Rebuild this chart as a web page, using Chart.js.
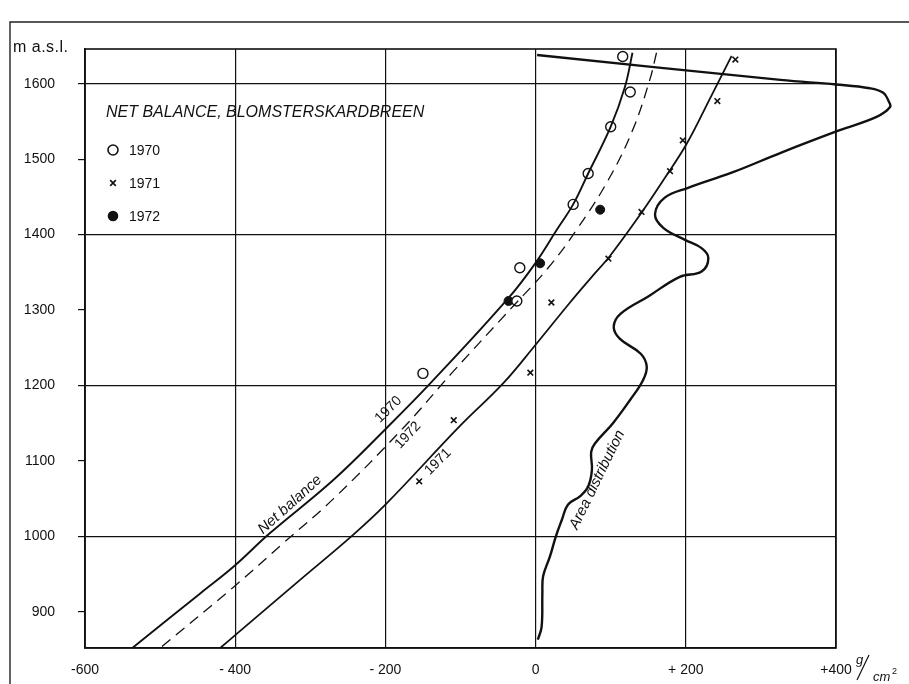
<!DOCTYPE html>
<html>
<head>
<meta charset="utf-8">
<script src="https://cdn.jsdelivr.net/npm/chart.js@4.4.1/dist/chart.umd.min.js"></script>
<style>
  html, body { margin: 0; padding: 0; background: #fff; }
  #wrap { position: relative; width: 909px; height: 684px; }
  canvas { display: block; }
</style>
</head>
<body>
<div id="wrap"><canvas id="c" width="909" height="684"></canvas></div>
<script>
// Axis ticks: net balance (g/cm2) and altitude (m a.s.l.)
const balanceTicks = [-600, -400, -200, 0, 200, 400];
const balanceTickLabels = ['-600', '- 400', '- 200', '0', '+ 200', '+400'];
const altitudeTicks = [900, 1000, 1100, 1200, 1300, 1400, 1500, 1600];

// Measured net balance at stakes
const obs1970Balance  = [116, 126, 100, 70, 50, -21, -25, -150];
const obs1970Altitude = [1636, 1589, 1543, 1481, 1440, 1356, 1312, 1216];
const obs1971Balance  = [266, 242, 196, 179, 141, 97, 21, -7, -109, -155];
const obs1971Altitude = [1632, 1577, 1525, 1484, 1430, 1368, 1310, 1217, 1154, 1073];
const obs1972Balance  = [86, 6, -36];
const obs1972Altitude = [1433, 1362, 1312];

// Net balance curves
const curve1970Balance  = [129, 119, 100, 70, 50, 28, 1, -36, -140, -199, -269, -354, -402, -447, -537];
const curve1970Altitude = [1641, 1596, 1543, 1481, 1440, 1406, 1364, 1316, 1203, 1143, 1075, 1004, 960, 924, 852];
const curve1971Balance  = [261, 232, 201, 172, 141, 100, 74, 45, 0, -43, -101, -200, -243, -314, -400, -420];
const curve1971Altitude = [1637, 1580, 1520, 1475, 1429, 1373, 1343, 1309, 1254, 1203, 1146, 1042, 1002, 942, 869, 852];
const curve1972Balance  = [161, 152, 129, 96, 55, 16, -30, -112, -175, -269, -336, -402, -500];
const curve1972Altitude = [1641, 1605, 1538, 1471, 1407, 1355, 1305, 1216, 1145, 1050, 991, 933, 852];

// Area distribution of the glacier with altitude
const areaValue    = [3, 8, 9, 10, 19, 27, 35, 43, 59, 70, 75, 74, 79, 103, 126, 143, 148, 140, 112, 104, 113, 150, 192, 221, 230, 221, 199, 170, 159, 172, 203, 261, 328, 404, 454, 472, 470, 463, 445, 400, 326, 2];
const areaAltitude = [863, 880, 924, 947, 973, 1000, 1022, 1042, 1053, 1066, 1088, 1112, 1123, 1150, 1181, 1207, 1225, 1242, 1262, 1278, 1295, 1318, 1344, 1351, 1369, 1382, 1393, 1409, 1427, 1449, 1462, 1482, 1509, 1538, 1556, 1569, 1577, 1588, 1594, 1599, 1605, 1638];

const INK = '#111';
const pts = (xs, ys) => xs.map((x, i) => ({ x: x, y: ys[i] }));

const lineSet = (xs, ys, width, dash) => ({
  data: pts(xs, ys), showLine: true, borderColor: INK, borderWidth: width,
  borderDash: dash || [], pointRadius: 0, tension: 0.4, fill: false
});

const decorations = {
  id: 'decorations',
  beforeDraw(chart) {
    const ctx = chart.ctx;
    ctx.save();
    ctx.fillStyle = '#fff';
    ctx.fillRect(0, 0, chart.width, chart.height);
    // page rule along left and top
    ctx.strokeStyle = '#222';
    ctx.lineWidth = 1.4;
    ctx.beginPath();
    ctx.moveTo(10, 684); ctx.lineTo(10, 22); ctx.lineTo(909, 22);
    ctx.stroke();
    ctx.restore();
  },
  afterDatasetsDraw(chart) {
    const ctx = chart.ctx;
    const a = chart.chartArea;
    const xs = chart.scales.x, ys = chart.scales.y;
    ctx.save();
    // plot frame
    ctx.strokeStyle = INK;
    ctx.lineWidth = 1.6;
    ctx.strokeRect(a.left, a.top, a.right - a.left, a.bottom - a.top);

    // axis unit on the altitude axis
    ctx.fillStyle = INK;
    ctx.font = '16px "Liberation Sans"';
    ctx.textAlign = 'left';
    ctx.textBaseline = 'alphabetic';
    ctx.letterSpacing = '0.5px';
    ctx.fillText('m a.s.l.', 13, 52);
    ctx.letterSpacing = '0px';

    // axis unit on the balance axis: g / cm2
    ctx.font = 'italic 13px "Liberation Sans"';
    ctx.fillText('g', 856, 664);
    ctx.beginPath();
    ctx.lineWidth = 1.2;
    ctx.moveTo(857, 680); ctx.lineTo(869, 655);
    ctx.stroke();
    ctx.fillText('cm', 873, 681);
    ctx.font = '9px "Liberation Sans"';
    ctx.fillText('2', 892, 674);

    // legend block
    ctx.font = 'italic 16px "Liberation Sans"';
    ctx.fillText('NET BALANCE, BLOMSTERSKARDBREEN', 106, 117);
    ctx.font = '14px "Liberation Sans"';
    ctx.textBaseline = 'middle';
    const rows = [
      { text: '1970', y: 150, style: 'circle', r: 5, fill: '#fff' },
      { text: '1971', y: 183, style: 'crossRot', r: 4, fill: INK },
      { text: '1972', y: 216, style: 'circle', r: 4.5, fill: INK }
    ];
    rows.forEach(row => {
      ctx.fillStyle = row.fill;
      ctx.strokeStyle = INK;
      ctx.lineWidth = 1.6;
      Chart.helpers.drawPoint(ctx, { pointStyle: row.style, radius: row.r, borderWidth: 1.6, rotation: 0 }, 113, row.y);
      ctx.fillStyle = INK;
      ctx.fillText(row.text, 129, row.y + 1);
    });

    // labels along the curves
    const label = (text, xv, yv, deg, font) => {
      ctx.save();
      ctx.translate(xs.getPixelForValue(xv), ys.getPixelForValue(yv));
      ctx.rotate(deg * Math.PI / 180);
      ctx.font = font;
      ctx.fillStyle = INK;
      ctx.textAlign = 'center';
      ctx.textBaseline = 'middle';
      ctx.fillText(text, 0, 0);
      ctx.restore();
    };
    label('Net balance', -327, 1042, -42, 'italic 15px "Liberation Sans"');
    label('1970', -196, 1168, -45, '14px "Liberation Sans"');
    label('1972', -170, 1134, -47, '14px "Liberation Sans"');
    label('1971', -130, 1099, -45, '14px "Liberation Sans"');
    label('Area distribution', 82, 1075, -64, 'italic 15px "Liberation Sans"');
    ctx.restore();
  }
};

new Chart(document.getElementById('c'), {
  type: 'scatter',
  data: {
    datasets: [
      Object.assign(lineSet(areaValue, areaAltitude, 2.4), { clip: false }),
      lineSet(curve1970Balance, curve1970Altitude, 1.9),
      lineSet(curve1972Balance, curve1972Altitude, 1.3, [11, 7]),
      lineSet(curve1971Balance, curve1971Altitude, 1.8),
      {
        data: pts(obs1970Balance, obs1970Altitude), pointStyle: 'circle', pointRadius: 5,
        pointBackgroundColor: '#fff', pointBorderColor: INK, pointBorderWidth: 1.4, showLine: false
      },
      {
        data: pts(obs1971Balance, obs1971Altitude), pointStyle: 'crossRot', pointRadius: 4,
        pointBorderColor: INK, pointBorderWidth: 1.6, showLine: false
      },
      {
        data: pts(obs1972Balance, obs1972Altitude), pointStyle: 'circle', pointRadius: 4.5,
        pointBackgroundColor: INK, pointBorderColor: INK, pointBorderWidth: 1, showLine: false
      }
    ]
  },
  options: {
    responsive: false,
    animation: false,
    layout: { padding: { left: 0, right: 73, top: 49, bottom: 0 } },
    plugins: { legend: { display: false }, tooltip: { enabled: false } },
    scales: {
      x: {
        type: 'linear', min: -600, max: 400,
        afterBuildTicks: s => { s.ticks = balanceTicks.map(v => ({ value: v })); },
        afterFit: s => { s.height = 36; },
        grid: { color: INK, lineWidth: 1.2, drawTicks: false },
        border: { display: true, color: INK, width: 1.6 },
        ticks: {
          padding: 14, maxRotation: 0, autoSkip: false, color: INK,
          font: { family: 'Liberation Sans', size: 14 },
          callback: v => balanceTickLabels[balanceTicks.indexOf(v)]
        }
      },
      y: {
        type: 'linear', min: 852, max: 1646,
        afterBuildTicks: s => { s.ticks = altitudeTicks.map(v => ({ value: v })); },
        afterFit: s => { s.width = 85; },
        grid: {
          color: c => (c.tick && c.tick.value % 200 === 0) ? INK : 'rgba(0,0,0,0)',
          tickColor: INK, lineWidth: 1.2, drawTicks: true, tickLength: 7
        },
        border: { display: true, color: INK, width: 1.6 },
        ticks: {
          padding: 23, color: INK,
          font: { family: 'Liberation Sans', size: 14 },
          callback: v => String(v)
        }
      }
    }
  },
  plugins: [decorations]
});
</script>
</body>
</html>
